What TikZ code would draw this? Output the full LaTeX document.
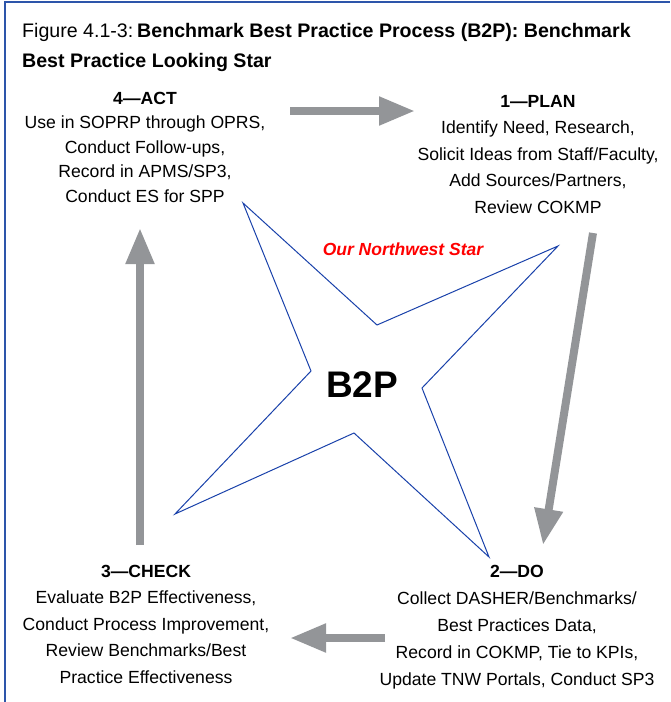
\documentclass[tikz,border=0pt]{standalone}
\usepackage{fontspec}
\setmainfont{Liberation Sans}
\usepackage{tikz}
\usetikzlibrary{arrows.meta}
\definecolor{flowgray}{RGB}{147,149,152}
\definecolor{starblue}{RGB}{25,65,170}
\definecolor{rulecol}{RGB}{45,85,170}

\begin{document}
\begin{tikzpicture}[x=1pt, y=-1pt,
                    phase/.style={align=center, inner sep=0, anchor=north},
                    flow/.style={line width=8pt, flowgray, -{Triangle[width=27pt, length=36pt]}}]
      \useasboundingbox (0,0) rectangle (670,702);
      \draw[rulecol, line width=2pt] (5,702) -- (5,2) -- (670,2);

      \node[anchor=north west, inner sep=0, align=left, font=\fontsize{19.6}{30}\selectfont] (title) at (22,22.8)
        {Figure 4.1-3:\hspace{0.2em}\textbf{Benchmark Best Practice Process (B2P): Benchmark}\\\textbf{Best Practice Looking Star}};

      \node[phase, font=\fontsize{17.6}{24.5}\selectfont] (act) at (145,92)
        {\textbf{4—ACT}\\Use in SOPRP through OPRS,\\Conduct Follow-ups,\\Record in APMS/SP3,\\Conduct ES for SPP};
      \node[phase, font=\fontsize{17.6}{26.5}\selectfont] (plan) at (538,95)
        {\textbf{1—PLAN}\\Identify Need, Research,\\Solicit Ideas from Staff/Faculty,\\Add Sources/Partners,\\Review COKMP};
      \node[phase, font=\fontsize{17.6}{27}\selectfont] (do) at (517,565)
        {\textbf{2—DO}\\Collect DASHER/Benchmarks/\\Best Practices Data,\\Record in COKMP, Tie to KPIs,\\Update TNW Portals, Conduct SP3};
      \node[phase, font=\fontsize{17.6}{26.5}\selectfont] (check) at (146,565)
        {\textbf{3—CHECK}\\Evaluate B2P Effectiveness,\\Conduct Process Improvement,\\Review Benchmarks/Best\\Practice Effectiveness};

      \draw[starblue, line width=1pt, line join=miter] (243,203) -- (377,325) -- (558,246) -- (422,388)
        -- (489,557) -- (354,433) -- (175,514) -- (311,371) -- cycle;
      \node[anchor=base, inner sep=0, text=red, font=\bfseries\itshape\fontsize{17.5}{20}\selectfont] (motto) at (403,255) {Our Northwest Star};
      \node[anchor=base, inner sep=0, font=\bfseries\fontsize{37}{40}\selectfont] (core) at (362,397) {B2P};

      \coordinate (act-out) at (290,111);
      \coordinate (plan-in) at (415,111);
      \coordinate (plan-out) at (593,233);
      \coordinate (do-in) at (543,545);
      \coordinate (do-out) at (385,638);
      \coordinate (check-in) at (290,638);
      \coordinate (check-out) at (140,545);
      \coordinate (act-in) at (140,228);

      \draw[flow] (act-out) -- (plan-in);
      \draw[flow] (plan-out) -- (do-in);
      \draw[flow] (do-out) -- (check-in);
      \draw[flow] (check-out) -- (act-in);
    \end{tikzpicture}
\end{document}
